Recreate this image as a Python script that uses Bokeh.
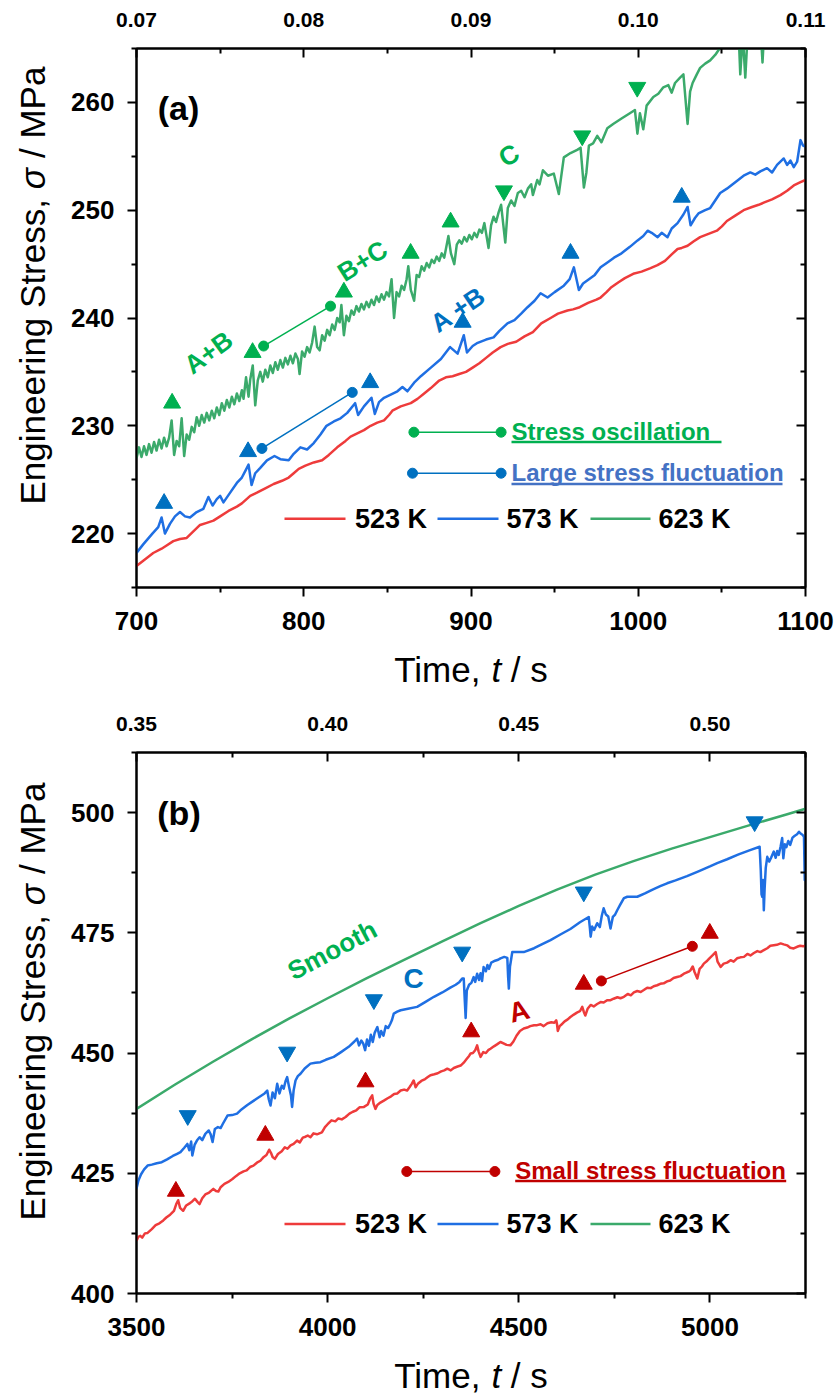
from math import radians, pi

from bokeh.core.properties import value
from bokeh.embed import file_html
from bokeh.layouts import column, row
from bokeh.models import FixedTicker, LinearAxis, NumeralTickFormatter, Range1d
from bokeh.plotting import figure
from bokeh.resources import INLINE

FONT = "Liberation Sans"
RED, BLUE, GREEN = "#EE3B3B", "#1F6FE3", "#3BAA6B"
MK_GREEN, MK_BLUE, MK_RED = "#00B050", "#0070C0", "#C00000"
NOTE_BLUE = "#4472C4"

# ---------------- panel (a): 700-1100 s ----------------
A_TIME_RANGE = (700, 1100)
A_STRESS_RANGE = (215, 265)
A_STRAIN_RANGE = (0.07, 0.11)
A_TIME_TICKS = [700, 800, 900, 1000, 1100]
A_TIME_MINOR = [750, 850, 950, 1050]
A_STRESS_TICKS = [220, 230, 240, 250, 260]
A_STRESS_MINOR = [215, 225, 235, 245, 255, 265]
A_STRAIN_TICKS = [0.07, 0.08, 0.09, 0.10, 0.11]
A_STRAIN_MINOR = [0.075, 0.085, 0.095, 0.105]

# (time s, stress MPa)
A_523K = [(700, 217.0), (705, 217.6), (710, 218.2), (715, 218.6), (718, 218.9), (722, 219.3),
          (726, 219.5), (730, 219.6), (734, 220.2), (738, 220.8), (742, 221.0), (746, 221.2),
          (750, 221.6), (755, 222.1), (760, 222.5), (763, 222.8), (768, 223.5), (772, 223.8),
          (777, 224.2), (782, 224.6), (787, 224.9), (791, 225.2), (794, 225.6), (797, 226.0),
          (801, 226.3), (806, 226.6), (811, 226.8), (815, 227.3), (820, 228.0), (825, 228.6),
          (828, 229.0), (832, 229.3), (836, 229.6), (840, 230.0), (844, 230.3), (848, 230.5),
          (851, 231.0), (853, 231.4), (858, 231.8), (864, 232.1), (868, 232.5), (872, 233.0),
          (876, 233.5), (881, 234.2), (885, 234.5), (889, 234.6), (893, 234.8), (897, 235.0),
          (901, 235.4), (905, 235.8), (909, 236.3), (913, 236.8), (917.7, 237.3), (922, 237.6),
          (927, 237.8), (932, 238.3), (937, 238.7), (942, 239.5), (947.6, 240.0), (952, 240.4),
          (957.7, 240.7), (961, 240.8), (965, 241.0), (970, 241.4), (975, 241.7), (977.5, 241.9),
          (981, 242.4), (983.5, 242.8), (988, 243.3), (992, 243.7), (997, 244.1), (1002, 244.3),
          (1007, 244.6), (1011.5, 244.9), (1016, 245.3), (1020, 245.9), (1023.5, 246.4),
          (1026, 246.5), (1029.5, 246.7), (1033, 247.1), (1037, 247.5), (1042, 247.8),
          (1047, 248.1), (1050, 248.5), (1053, 249.0), (1058, 249.5), (1063, 250.0),
          (1068, 250.3), (1072, 250.5), (1075, 250.7), (1080, 251.0), (1085, 251.4),
          (1089, 251.8), (1093, 252.3), (1097, 252.6), (1100, 252.8)]

A_573K = [(700, 218.2), (704, 219.0), (709.5, 220.0), (713, 220.6), (715, 221.5), (717, 220.0),
          (720, 220.9), (723, 221.6), (726, 222.0), (729, 221.6), (732, 221.5), (736, 222.0),
          (740, 222.3), (743, 223.4), (745.5, 222.6), (748, 223.2), (750, 223.5), (752, 222.9),
          (756, 223.8), (760, 224.7), (763, 225.2), (765, 225.8), (767, 226.4), (768.8, 224.5),
          (771, 225.6), (774, 226.1), (778, 226.8), (782.5, 227.2), (786, 226.9), (791, 226.8),
          (794, 227.4), (798, 228.0), (802, 227.8), (806, 228.4), (810, 229.2), (813.6, 230.0),
          (818, 230.4), (822, 230.7), (826, 231.2), (830.7, 232.1), (832.5, 231.0), (836, 231.8),
          (840.5, 232.6), (842.5, 231.1), (845, 232.2), (848, 232.6), (852, 232.9), (856, 233.2),
          (859, 233.6), (862, 233.2), (866, 234.0), (870, 234.6), (876, 235.4), (882, 236.2),
          (887.5, 237.3), (892, 236.7), (895.7, 238.4), (897.6, 236.8), (901, 237.4),
          (904, 237.7), (909, 238.0), (913.5, 238.2), (917, 238.8), (921.8, 239.5), (926, 239.8),
          (930, 240.4), (933.8, 241.0), (938, 241.6), (941.6, 242.3), (945.8, 241.9),
          (950, 242.4), (955.5, 243.0), (959, 243.6), (961.5, 244.7), (964.5, 242.6),
          (967, 243.2), (969.7, 243.5), (974, 244.0), (977.5, 244.7), (982, 245.2),
          (985.5, 245.6), (990, 246.0), (995, 246.6), (999.6, 247.2), (1003, 247.6),
          (1005.6, 248.1), (1008, 247.9), (1011.6, 247.5), (1014, 247.9), (1017.5, 247.5),
          (1020, 248.3), (1023.5, 248.8), (1027, 249.6), (1029.5, 250.3), (1031.3, 248.6),
          (1034, 249.3), (1036, 249.7), (1040, 250.0), (1043, 250.2), (1046, 250.9),
          (1049, 251.6), (1053, 252.0), (1058, 252.6), (1063, 253.2), (1067, 253.5),
          (1070, 253.3), (1073, 253.6), (1077, 253.9), (1080, 253.5), (1083, 254.2),
          (1087, 254.8), (1089, 254.2), (1091, 254.6), (1093, 254.0), (1095, 254.5),
          (1097, 256.5), (1098.5, 256.0), (1100, 255.9)]

A_623K = [(700, 227.0), (701.5, 228.0), (703, 227.1), (704.5, 228.1), (706, 227.3), (707.5, 228.3),
          (709, 227.5), (710.5, 228.5), (712, 227.7), (713.5, 228.7), (715, 227.9), (716.5, 228.9),
          (718, 228.1), (719.5, 228.9), (721, 230.5), (722.5, 227.3), (724, 228.6), (725.5, 228.1),
          (727, 230.7), (728.5, 227.2), (730, 229.2), (731.5, 228.7), (733, 229.9), (734.5, 229.4),
          (736, 230.8), (737.5, 230.0), (739, 231.0), (740.5, 230.3), (742, 231.2), (743.5, 230.5),
          (745, 231.4), (746.5, 230.7), (748, 231.7), (749.5, 231.0), (751, 232.1), (752.5, 231.4),
          (754, 232.4), (755.5, 231.7), (757, 232.7), (758.5, 232.0), (760, 233.0), (761.5, 232.3),
          (763, 233.3), (764, 232.5), (765.5, 234.5), (767, 232.7), (768, 234.3), (769.5, 235.6),
          (771, 231.9), (772.5, 234.2), (774, 235.0), (775.5, 234.1), (777, 235.2), (778.5, 234.5),
          (780, 235.6), (781.5, 234.9), (783, 235.9), (784.5, 235.2), (786, 236.1), (787.5, 235.4),
          (789, 236.3), (790.5, 235.7), (792, 236.5), (793.5, 235.8), (795, 236.7), (796.5, 236.2),
          (797.5, 234.8), (799, 236.9), (800.5, 236.4), (802, 237.3), (803.5, 236.8), (805, 237.7),
          (806.5, 239.2), (808, 237.3), (809.5, 237.0), (811, 238.4), (812.5, 237.9), (814, 238.9),
          (815.5, 238.4), (817, 239.4), (818.5, 238.9), (820, 240.0), (821.5, 239.6),
          (822.5, 241.2), (824, 238.4), (825.5, 240.2), (827, 239.7), (828.5, 240.7), (830, 240.3),
          (831.5, 241.1), (833, 240.6), (834.5, 241.3), (836, 240.8), (837.5, 241.5), (839, 241.0),
          (840.5, 241.7), (842, 241.2), (843.5, 242.0), (845, 241.5), (846.5, 242.2), (848, 241.7),
          (849.5, 242.4), (851, 242.0), (852.5, 243.6), (854, 240.0), (855.5, 242.4), (857, 242.0),
          (858.5, 243.0), (860, 242.6), (861.5, 243.6), (862.5, 244.8), (864, 242.6), (866, 241.6),
          (867.5, 244.0), (869, 243.8), (870.5, 244.8), (872, 244.4), (873.5, 245.1), (875, 244.7),
          (876.5, 245.4), (878, 245.1), (879.5, 245.7), (881, 245.3), (882.5, 246.0), (884, 245.6),
          (886.5, 247.6), (888, 246.0), (890, 245.0), (891.5, 246.8), (893, 247.2), (894.5, 246.9),
          (896, 247.5), (897.5, 247.1), (899, 247.7), (900.5, 247.3), (902, 247.9), (903.5, 247.5),
          (905, 248.2), (906.5, 247.9), (908, 248.8), (910.5, 246.5), (912, 248.6), (913.5, 249.4),
          (915, 248.9), (916.5, 249.8), (918, 250.5), (920.5, 247.0), (922, 250.2), (924, 250.9),
          (926, 250.4), (928, 251.6), (930, 251.8), (932, 251.2), (934, 252.0), (936, 252.4),
          (937, 251.4), (939.6, 252.8), (941, 252.4), (943, 253.7), (946, 253.2), (949.5, 253.4),
          (952.5, 251.5), (955.5, 254.9), (959.5, 255.3), (963.5, 255.6), (965.5, 255.8),
          (967.5, 252.1), (969, 253.5), (970.5, 256.0), (973, 256.2), (975.5, 256.9),
          (978, 256.3), (981.5, 257.6), (985, 258.0), (990, 258.5), (995, 259.0), (998, 259.3),
          (999.5, 257.1), (1001, 259.0), (1003, 257.5), (1005, 259.7), (1009, 260.5),
          (1012, 260.8), (1015, 261.4), (1018, 261.6), (1020, 260.9), (1022, 261.8),
          (1025, 262.3), (1027, 262.6), (1029.5, 258.0), (1031, 261.0), (1032.5, 261.8),
          (1035, 262.6), (1037, 263.2), (1040, 263.6), (1043, 263.9), (1046, 264.4),
          (1050, 265.3), (1055, 266.0), (1060, 266.5), (1061, 262.6), (1062.5, 266.3),
          (1064, 262.3), (1065.5, 266.6), (1070, 267.0), (1073, 267.2), (1074.3, 263.7),
          (1075.5, 267.3), (1085, 268.0), (1100, 269.0)]

# serration-type markers (a)
A_GREEN_UP_T = [721.3, 769.4, 824.0, 863.9, 887.8]
A_GREEN_UP_S = [232.1, 236.8, 242.4, 246.0, 248.9]
A_GREEN_DOWN_T = [919.7, 966.5, 999.4]
A_GREEN_DOWN_S = [251.8, 256.9, 261.4]
A_BLUE_UP_T = [716.5, 766.7, 839.7, 895.0, 959.5, 1026.0]
A_BLUE_UP_S = [222.8, 227.6, 234.0, 239.6, 246.0, 251.2]
A_OSC_LINK_T = [776, 816]
A_OSC_LINK_S = [237.4, 241.1]
A_LARGE_LINK_T = [775, 829]
A_LARGE_LINK_S = [227.9, 233.1]

# ---------------- panel (b): 3500-5250 s ----------------
B_TIME_RANGE = (3500, 5250)
B_STRESS_RANGE = (400, 512.5)
B_STRAIN_RANGE = (0.35, 0.525)
B_TIME_TICKS = [3500, 4000, 4500, 5000]
B_TIME_MINOR = [3750, 4250, 4750, 5250]
B_STRESS_TICKS = [400, 425, 450, 475, 500]
B_STRESS_MINOR = [412.5, 437.5, 462.5, 487.5, 512.5]
B_STRAIN_TICKS = [0.35, 0.40, 0.45, 0.50]
B_STRAIN_MINOR = [0.375, 0.425, 0.475, 0.525]

B_523K = [(3500, 411.0), (3505, 411.8), (3510, 412.0), (3515, 411.6), (3522, 412.5), (3529, 412.6),
          (3540, 413.4), (3550, 414.2), (3560, 414.6), (3570, 415.2), (3578, 415.8), (3588, 416.4),
          (3598, 417.2), (3604, 418.6), (3609, 419.4), (3614, 417.8), (3622, 417.2), (3630, 418.3),
          (3640, 418.8), (3645, 419.1), (3653, 419.7), (3660, 419.0), (3665, 418.6), (3672, 419.8),
          (3680, 420.6), (3690, 421.0), (3701, 421.75), (3708, 421.3), (3714, 421.2), (3720, 422.1),
          (3730, 422.8), (3740, 423.2), (3751, 423.8), (3760, 424.4), (3770, 425.0), (3780, 425.4),
          (3788, 425.6), (3797, 426.3), (3806, 426.6), (3815, 427.2), (3824, 427.6), (3833, 428.4),
          (3840, 428.8), (3847, 429.9), (3852, 429.2), (3856, 428.4), (3862, 428.0), (3870, 429.0),
          (3880, 429.6), (3888, 430.4), (3895, 430.1), (3903, 430.8), (3911, 431.1), (3920, 431.8),
          (3927, 431.4), (3935, 432.4), (3942, 432.6), (3948, 432.85), (3955, 432.5), (3963, 433.3),
          (3972, 433.1), (3985, 433.5), (3993, 434.6), (4000, 435.2), (4010, 436.0), (4020, 435.8),
          (4028, 436.4), (4037, 436.2), (4047, 436.7), (4057, 437.4), (4066, 437.8), (4075, 438.1),
          (4084, 438.75), (4095, 438.8), (4105, 439.3), (4111, 440.5), (4116.6, 441.2),
          (4120, 439.5), (4125, 438.4), (4130, 439.2), (4138, 439.7), (4147, 440.1), (4157, 440.6),
          (4166, 441.0), (4174, 441.5), (4182, 441.6), (4191, 442.2), (4200, 442.4), (4208, 442.2),
          (4215, 443.0), (4220, 443.6), (4225, 444.3), (4230, 442.9), (4236, 443.6), (4245, 444.2),
          (4255, 444.6), (4262, 445.0), (4269, 445.4), (4279, 445.6), (4288, 445.8), (4297, 446.2),
          (4305, 446.4), (4313, 446.75), (4322, 446.4), (4330, 446.9), (4340, 447.2), (4348, 447.4),
          (4356, 448.0), (4364, 448.8), (4370, 449.4), (4374, 449.9), (4380, 450.0), (4386, 450.6),
          (4391, 451.6), (4395, 450.3), (4400, 449.2), (4407, 450.2), (4414, 450.0), (4420, 450.6),
          (4426, 450.9), (4435, 451.4), (4443, 451.8), (4452, 452.3), (4460, 452.0), (4468, 451.7),
          (4478, 451.6), (4486, 452.4), (4494, 453.6), (4503, 454.6), (4513, 455.1), (4522, 455.3),
          (4530, 455.6), (4540, 455.8), (4548, 455.8), (4557, 456.0), (4565, 455.6), (4575, 456.2),
          (4585, 456.4), (4593, 456.3), (4598, 456.8), (4600, 456.0), (4602, 454.6), (4607, 455.6),
          (4614, 456.1), (4620, 456.6), (4628, 457.0), (4635, 457.5), (4644, 458.0), (4652, 458.4),
          (4660, 458.7), (4666, 459.6), (4670, 458.6), (4674, 457.8), (4680, 459.2), (4688, 460.0),
          (4696, 459.7), (4705, 460.2), (4714, 460.6), (4722, 460.5), (4731, 461.0), (4740, 461.0),
          (4748, 461.3), (4758, 461.6), (4766, 461.4), (4775, 461.7), (4785, 462.3), (4793, 462.0),
          (4801, 462.6), (4810, 462.9), (4819, 462.7), (4827, 463.1), (4836, 463.6), (4845, 463.5),
          (4853, 463.9), (4862, 464.1), (4870, 464.4), (4879, 464.5), (4888, 464.9), (4896, 465.1),
          (4905, 465.6), (4914, 465.8), (4923, 466.0), (4932, 466.5), (4940, 466.8), (4946, 467.0),
          (4949, 467.2), (4955, 468.0), (4960, 466.8), (4967, 465.5), (4973, 467.5), (4979, 468.0),
          (4984, 468.6), (4993, 469.2), (5000, 469.8), (5008, 470.4), (5015, 471.0), (5020, 469.0),
          (5028, 467.9), (5036, 468.6), (5045, 468.8), (5054, 469.3), (5062, 469.0), (5071, 469.7),
          (5080, 469.9), (5089, 470.0), (5098, 470.6), (5106, 470.3), (5115, 470.8), (5124, 471.2),
          (5132, 471.0), (5141, 471.4), (5150, 471.8), (5158, 472.3), (5167, 472.4), (5175, 472.5),
          (5185, 472.8), (5193, 472.6), (5202, 472.4), (5210, 471.9), (5219, 471.75), (5228, 472.1),
          (5236, 472.3), (5244, 472.2), (5250, 472.4)]

B_573K = [(3500, 421.8), (3505, 423.5), (3512, 424.8), (3520, 425.8), (3529, 426.6), (3540, 426.8),
          (3553, 427.1), (3566, 427.3), (3580, 427.9), (3595, 428.6), (3605, 429.0), (3615, 429.4),
          (3625, 430.3), (3633, 431.1), (3638, 429.8), (3643, 431.6), (3646, 428.7), (3652, 430.9),
          (3658, 431.8), (3665, 432.5), (3672, 431.9), (3680, 433.2), (3689, 433.9), (3694, 433.1),
          (3699, 431.5), (3705, 434.2), (3713, 434.6), (3720, 434.4), (3726, 435.3), (3738, 437.0),
          (3750, 437.1), (3763, 437.4), (3772, 438.1), (3790, 439.2), (3805, 440.0), (3820, 440.8),
          (3835, 441.6), (3842, 442.2), (3846, 440.4), (3850.6, 439.1), (3856, 441.8), (3862, 440.6),
          (3868, 443.6), (3874, 441.6), (3880, 443.2), (3885, 442.6), (3890, 444.2), (3894, 445.0),
          (3899, 443.0), (3904, 441.2), (3907, 438.8), (3911, 442.2), (3916, 444.3), (3922, 445.2),
          (3929, 445.7), (3940, 446.8), (3955, 447.8), (3968, 448.0), (3981, 448.1), (3995, 448.6),
          (4016, 449.2), (4035, 450.2), (4055, 451.3), (4070, 452.4), (4077, 453.0), (4082, 451.6),
          (4088, 452.6), (4093, 452.0), (4098, 450.6), (4103, 452.8), (4108, 451.5), (4113, 453.8),
          (4118, 452.3), (4123, 454.2), (4130, 455.4), (4136, 453.3), (4140, 454.6), (4146, 453.6),
          (4152, 455.6), (4158, 455.2), (4164, 456.1), (4168, 456.8), (4173, 458.2), (4182, 458.6),
          (4191, 458.9), (4210, 459.2), (4234, 459.6), (4255, 460.6), (4278, 461.7), (4300, 462.6),
          (4321, 463.6), (4335, 464.2), (4345, 464.8), (4352, 465.5), (4356, 465.5), (4359, 460.5),
          (4361, 457.3), (4364, 463.0), (4370, 464.2), (4376, 464.6), (4382, 465.8), (4386, 464.8),
          (4391, 466.5), (4396, 465.2), (4400, 466.6), (4404, 465.0), (4408, 467.9), (4414, 467.0),
          (4418, 468.3), (4422, 467.5), (4428, 468.8), (4438, 469.2), (4446, 469.4), (4452, 469.7),
          (4462, 470.0), (4470, 469.8), (4472, 466.0), (4474, 463.4), (4477, 468.0), (4483, 471.0),
          (4495, 471.0), (4513, 471.0), (4540, 471.8), (4560, 472.6), (4583, 473.5), (4610, 474.7),
          (4635, 475.8), (4660, 477.2), (4683, 478.3), (4686, 476.0), (4688, 474.2), (4692, 476.3),
          (4697, 475.6), (4705, 477.0), (4712, 476.2), (4717, 478.5), (4722, 480.1), (4728, 478.8),
          (4734, 478.4), (4740, 475.9), (4746, 478.3), (4752, 478.8), (4757.5, 479.7), (4765, 480.8),
          (4775, 482.2), (4784, 482.5), (4797, 482.5), (4810, 482.5), (4830, 483.2), (4850, 484.0),
          (4870, 484.7), (4888, 485.3), (4910, 485.9), (4940, 486.8), (4970, 487.8), (5000, 488.8),
          (5019, 489.5), (5045, 490.3), (5075, 491.3), (5105, 492.2), (5130, 492.9), (5133, 488.0),
          (5135, 483.0), (5137, 482.5), (5139, 486.0), (5141, 479.7), (5143, 484.0), (5146, 488.5),
          (5150, 490.8), (5155, 489.8), (5160, 490.6), (5167, 491.9), (5172, 490.6), (5176, 492.0),
          (5180, 491.2), (5185, 493.0), (5189, 494.7), (5192, 490.5), (5196, 493.4), (5200, 492.8),
          (5205, 494.1), (5210, 493.3), (5216, 494.8), (5222, 495.2), (5228, 495.5), (5233, 496.0),
          (5238, 495.6), (5242, 495.4), (5246, 495.0), (5248, 486.0), (5250, 488.0)]

B_623K = [(3500, 438.4), (3600, 443.4), (3700, 448.2), (3800, 452.8), (3900, 457.2), (4000, 461.4),
          (4100, 465.5), (4200, 469.4), (4300, 473.2), (4400, 477.0), (4500, 480.6), (4600, 484.0),
          (4700, 487.1), (4800, 489.9), (4900, 492.5), (5000, 494.9), (5100, 497.3), (5200, 499.6),
          (5250, 500.8)]

B_BLUE_DOWN_T = [3634, 3894, 4121, 4352, 4670, 5117]
B_BLUE_DOWN_S = [437.0, 450.2, 461.1, 471.0, 483.5, 498.1]
B_RED_UP_T = [3603, 3837, 4099, 4375.5, 4670, 4999.6]
B_RED_UP_S = [421.25, 432.9, 444.0, 454.4, 464.3, 474.9]
B_SMALL_LINK_T = [4716, 4954]
B_SMALL_LINK_S = [465.0, 472.2]

# ---------------- page geometry (px, from the page's top-left) ----------------
PAGE_W = 839
STRIP_W = 60                      # column holding the vertical axis title
FRAME_LEFT, FRAME_RIGHT = 136, 805
A_TOP, A_BOTTOM, A_PLOT_H, A_STRIP_H = 48, 587, 640, 60      # panel (a) starts at y=0
B_ORIGIN = 700
B_TOP, B_BOTTOM, B_PLOT_H, B_STRIP_H = 752, 1293, 646, 50    # panel (b) starts at y=700
TITLE_PX = 35
TICK_PX = "26px"
STRAIN_PX = "21px"

# Arial/Liberation advance widths (em) of the axis-title pieces
EM_STRESS, EM_SPACE, EM_SIGMA = 8.726, 0.278, 0.617
EM_TIME, EM_T, EM_S = 2.5, 0.278, 1.056


def pixel_mapper(xr, yr, top, bottom):
    fw = FRAME_RIGHT - FRAME_LEFT
    fh = bottom - top

    def f(px, py):
        return (xr[0] + (px - FRAME_LEFT) * (xr[1] - xr[0]) / fw,
                yr[1] - (py - top) * (yr[1] - yr[0]) / fh)
    return f


def style_axis(ax, t_in, t_out, m_in, m_out, size, standoff):
    ax.axis_line_width = 2
    ax.axis_line_color = "black"
    ax.major_tick_line_width = 2
    ax.minor_tick_line_width = 2
    ax.major_tick_line_color = "black"
    ax.minor_tick_line_color = "black"
    ax.major_tick_in, ax.major_tick_out = t_in, t_out
    ax.minor_tick_in, ax.minor_tick_out = m_in, m_out
    ax.major_label_text_font = FONT
    ax.major_label_text_font_style = "bold"
    ax.major_label_text_font_size = size
    ax.major_label_text_color = "black"
    ax.major_label_standoff = standoff


def make_panel(height, border_top, border_bottom, xr, yr, sr, xt, xm, yt, ym, st, sm):
    p = figure(width=PAGE_W - STRIP_W, height=height, x_range=Range1d(*xr), y_range=Range1d(*yr),
               output_backend="svg", toolbar_location=None,
               x_axis_location=None, y_axis_location=None,
               min_border_left=FRAME_LEFT - STRIP_W, min_border_right=PAGE_W - FRAME_RIGHT,
               min_border_top=border_top, min_border_bottom=border_bottom)
    p.xgrid.visible = False
    p.ygrid.visible = False
    p.outline_line_color = "black"
    p.outline_line_width = 2
    p.background_fill_color = "white"
    p.border_fill_color = "white"
    p.extra_x_ranges = {"strain": Range1d(*sr)}

    below = LinearAxis(ticker=FixedTicker(ticks=xt, minor_ticks=xm))
    style_axis(below, 0, 9, 0, 5, TICK_PX, 15)
    p.add_layout(below, "below")

    left = LinearAxis(ticker=FixedTicker(ticks=yt, minor_ticks=ym))
    style_axis(left, 0, 9, 0, 5, TICK_PX, 13)
    p.add_layout(left, "left")

    right = LinearAxis(ticker=FixedTicker(ticks=yt, minor_ticks=ym))
    style_axis(right, 9, 0, 5, 0, "0px", 0)
    right.major_label_text_alpha = 0
    p.add_layout(right, "right")

    above = LinearAxis(x_range_name="strain", ticker=FixedTicker(ticks=st, minor_ticks=sm),
                       formatter=NumeralTickFormatter(format="0.00"))
    style_axis(above, 9, 0, 5, 0, STRAIN_PX, 22)
    p.add_layout(above, "above")
    return p


def strip(width, height, xr, border_left, border_right):
    # plain canvas in page-pixel units for the axis titles
    s = figure(width=width, height=height, x_range=Range1d(*xr), y_range=Range1d(0, height),
               output_backend="svg", toolbar_location=None,
               x_axis_location=None, y_axis_location=None, min_border=0,
               min_border_left=border_left, min_border_right=border_right)
    s.xgrid.visible = False
    s.ygrid.visible = False
    s.outline_line_color = None
    s.background_fill_color = "white"
    s.border_fill_color = "white"
    return s


def title_text(s, x, y, txt, style, angle=0.0):
    s.text(x=[x], y=[y], text=[txt], angle=angle, text_align="left", text_baseline="middle",
           text_font=value(FONT), text_font_style=style, text_font_size=f"{TITLE_PX}px",
           text_color="black")


def stress_title(height, start_from_top):
    s = strip(STRIP_W, height, (0, STRIP_W), 0, 0)
    y0 = height - start_from_top
    title_text(s, 32, y0, "Engineering Stress,", "normal", pi / 2)
    title_text(s, 32, y0 + (EM_STRESS + EM_SPACE) * TITLE_PX, "σ", "italic", pi / 2)
    title_text(s, 32, y0 + (EM_STRESS + 2 * EM_SPACE + EM_SIGMA) * TITLE_PX, "/ MPa", "normal",
               pi / 2)
    return s


def time_title(height, center_from_top):
    # x runs in page pixels over the same span as the plot frame above it
    s = strip(PAGE_W - STRIP_W, height, (FRAME_LEFT, FRAME_RIGHT),
              FRAME_LEFT - STRIP_W, PAGE_W - FRAME_RIGHT)
    total = (EM_TIME + 2 * EM_SPACE + EM_T + EM_S) * TITLE_PX
    x0 = (FRAME_LEFT + FRAME_RIGHT) / 2 - total / 2
    y = height - center_from_top
    title_text(s, x0, y, "Time,", "normal")
    title_text(s, x0 + (EM_TIME + EM_SPACE) * TITLE_PX, y, "t", "italic")
    title_text(s, x0 + (EM_TIME + 2 * EM_SPACE + EM_T) * TITLE_PX, y, "/ s", "normal")
    return s


def curve(p, pts, color):
    p.line([a for a, _ in pts], [b for _, b in pts], line_color=color, line_width=2.5,
           line_join="round")


def label(p, xs, ys, texts, color, size, angle=0.0, align="center"):
    p.text(x=xs, y=ys, text=texts, text_color=color, text_font=value(FONT),
           text_font_style="bold", text_font_size=size, angle=angle,
           text_align=align, text_baseline="middle")


def temperature_key(p, to_data, y_px):
    for (x0, x1, tx, color, name) in [(284, 345, 354.5, RED, "523 K"),
                                      (437, 498, 506, BLUE, "573 K"),
                                      (590, 650, 658, GREEN, "623 K")]:
        a0, yy = to_data(x0, y_px)
        a1, _ = to_data(x1, y_px)
        p.segment(x0=[a0], y0=[yy], x1=[a1], y1=[yy], line_color=color, line_width=2.5)
        tx_d, _ = to_data(tx, y_px)
        label(p, [tx_d], [yy], [name], "black", "27px", align="left")


def note_key(p, to_data, c0, c1, y_px, link_color, text, text_x, text_y, text_color,
             under_end, under_y):
    a0, yy = to_data(c0, y_px)
    a1, _ = to_data(c1, y_px)
    p.line([a0, a1], [yy, yy], line_color=link_color, line_width=1.5)
    p.scatter([a0, a1], [yy, yy], marker="circle", size=10, color=link_color)
    tx, ty = to_data(text_x, text_y)
    label(p, [tx], [ty], [text], text_color, "24px", align="left")
    u0, uy = to_data(text_x, under_y)
    u1, _ = to_data(under_end, under_y)
    p.segment(x0=[u0], y0=[uy], x1=[u1], y1=[uy], line_color=text_color, line_width=2.5)


# ---------------- panel (a) ----------------
pa = make_panel(A_PLOT_H, A_TOP, A_PLOT_H - A_BOTTOM, A_TIME_RANGE, A_STRESS_RANGE,
                A_STRAIN_RANGE, A_TIME_TICKS, A_TIME_MINOR, A_STRESS_TICKS, A_STRESS_MINOR,
                A_STRAIN_TICKS, A_STRAIN_MINOR)
a_px = pixel_mapper(A_TIME_RANGE, A_STRESS_RANGE, A_TOP, A_BOTTOM)

curve(pa, A_523K, RED)
curve(pa, A_573K, BLUE)
curve(pa, A_623K, GREEN)

pa.scatter(A_GREEN_UP_T, A_GREEN_UP_S, marker="triangle", size=17, color=MK_GREEN)
pa.scatter(A_GREEN_DOWN_T, A_GREEN_DOWN_S, marker="inverted_triangle", size=17, color=MK_GREEN)
pa.scatter(A_BLUE_UP_T, A_BLUE_UP_S, marker="triangle", size=17, color=MK_BLUE)

pa.line(A_OSC_LINK_T, A_OSC_LINK_S, line_color=MK_GREEN, line_width=1.5)
pa.scatter(A_OSC_LINK_T, A_OSC_LINK_S, marker="circle", size=10, color=MK_GREEN)
pa.line(A_LARGE_LINK_T, A_LARGE_LINK_S, line_color=MK_BLUE, line_width=1.5)
pa.scatter(A_LARGE_LINK_T, A_LARGE_LINK_S, marker="circle", size=10, color=MK_BLUE)

label(pa, [743.0], [236.8], ["A+B"], MK_GREEN, "26px", angle=radians(36))
label(pa, [835.1], [245.3], ["B+C"], MK_GREEN, "26px", angle=radians(32))
label(pa, [922.6], [255.1], ["C"], MK_GREEN, "26px", angle=radians(30))
label(pa, [892.3], [240.8], ["A +B"], MK_BLUE, "26px", angle=radians(34))
ax_, ay_ = a_px(178, 107)
label(pa, [ax_], [ay_], ["(a)"], "black", "34px")

note_key(pa, a_px, 413.4, 500.6, 431.7, MK_GREEN, "Stress oscillation", 511, 430.5,
         MK_GREEN, 721, 441.5)
note_key(pa, a_px, 412, 500.6, 472.7, MK_BLUE, "Large stress fluctuation", 511, 472.0,
         NOTE_BLUE, 782, 483.5)
temperature_key(pa, a_px, 518.3)

ya = stress_title(A_PLOT_H + A_STRIP_H, 504)
xa = time_title(A_STRIP_H, 668.5 - A_PLOT_H)

# ---------------- panel (b) ----------------
pb = make_panel(B_PLOT_H, B_TOP - B_ORIGIN, B_ORIGIN + B_PLOT_H - B_BOTTOM, B_TIME_RANGE,
                B_STRESS_RANGE, B_STRAIN_RANGE, B_TIME_TICKS, B_TIME_MINOR, B_STRESS_TICKS,
                B_STRESS_MINOR, B_STRAIN_TICKS, B_STRAIN_MINOR)
b_px = pixel_mapper(B_TIME_RANGE, B_STRESS_RANGE, B_TOP, B_BOTTOM)

curve(pb, B_523K, RED)
curve(pb, B_573K, BLUE)
curve(pb, B_623K, GREEN)

pb.scatter(B_BLUE_DOWN_T, B_BLUE_DOWN_S, marker="inverted_triangle", size=17, color=MK_BLUE)
pb.scatter(B_RED_UP_T, B_RED_UP_S, marker="triangle", size=17, color=MK_RED)
pb.line(B_SMALL_LINK_T, B_SMALL_LINK_S, line_color=MK_RED, line_width=1.5)
pb.scatter(B_SMALL_LINK_T, B_SMALL_LINK_S, marker="circle", size=10, color=MK_RED)

label(pb, [4012.0], [471.4], ["Smooth"], MK_GREEN, "26px", angle=radians(28))
label(pb, [4225.0], [465.5], ["C"], MK_BLUE, "28px")
label(pb, [4500.6], [458.7], ["A"], MK_RED, "28px", angle=radians(15))
bx_, by_ = b_px(178.5, 812.5)
label(pb, [bx_], [by_], ["(b)"], "black", "34px")

note_key(pb, b_px, 406.3, 494.4, 1171, MK_RED, "Small stress fluctuation", 514.7, 1169.5,
         MK_RED, 785.7, 1180.5)
temperature_key(pb, b_px, 1223.5)

yb = stress_title(B_PLOT_H + B_STRIP_H, 1220 - B_ORIGIN)
xb = time_title(B_STRIP_H, 1374.5 - B_ORIGIN - B_PLOT_H)

page = column(row(ya, column(pa, xa)), row(yb, column(pb, xb)))
open("out.html", "w").write(file_html(page, INLINE))
